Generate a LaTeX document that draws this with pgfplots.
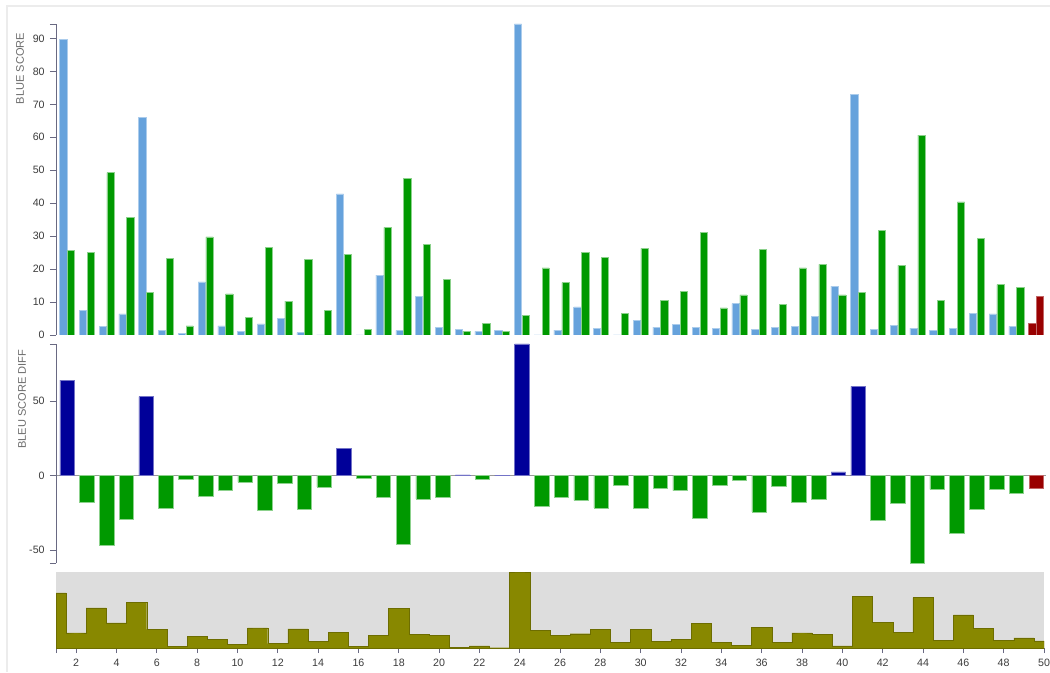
\documentclass[border=0pt]{standalone}
\usepackage{fontspec}
\setmainfont{Liberation Sans}
\usepackage{pgfplots}
\usepackage{pgfplotstable}
\pgfplotsset{compat=1.18}
\definecolor{lblue}{RGB}{102,162,220}
\definecolor{bgreen}{RGB}{0,153,0}
\definecolor{dblue}{RGB}{0,0,153}
\definecolor{dred}{RGB}{153,0,0}
\definecolor{olivec}{RGB}{136,136,0}
\definecolor{bggray}{RGB}{221,221,221}
\definecolor{axisc}{RGB}{105,105,130}
\definecolor{tickc}{RGB}{60,60,60}
\definecolor{labc}{RGB}{110,110,110}
\definecolor{framec}{RGB}{236,236,236}

% category, blue score, green score
\pgfplotstableread{
x b g
1 89.8 25.6
2 7.4 25.1
3 2.5 49.3
4 6.4 35.6
5 66.0 12.9
6 1.5 23.3
7 0.5 2.8
8 16.1 29.8
9 2.8 12.5
10 1.0 5.3
11 3.4 26.7
12 5.1 10.3
13 0.7 23.0
14 0.0 7.5
15 42.8 24.5
16 0.0 1.7
17 18.2 32.7
18 1.4 47.5
19 11.8 27.4
20 2.4 16.9
21 1.7 1.1
22 1.1 3.5
23 1.4 1.1
24 94.4 5.9
25 0.0 20.4
26 1.5 15.9
27 8.5 25.1
28 1.9 23.5
29 0.0 6.6
30 4.5 26.3
31 2.4 10.5
32 3.2 13.2
33 2.4 31.2
34 1.9 8.2
35 9.5 12.2
36 1.6 25.9
37 2.4 9.3
38 2.7 20.4
39 5.6 21.4
40 14.8 12.2
41 73.0 12.9
42 1.6 31.7
43 2.9 21.1
44 2.1 60.7
45 1.3 10.5
46 1.9 40.4
47 6.6 29.3
48 6.4 15.3
49 2.6 14.5
}\scores
\pgfplotstableread{
x b g
50 3.7 11.9
}\lastscore
% positive differences
\pgfplotstableread{
x d
1 64.2
5 53.1
15 18.3
21 0.6
23 0.3
24 88.5
40 2.6
41 60.1
}\diffpos
% negative differences
\pgfplotstableread{
x d
2 -17.7
3 -46.8
4 -29.2
6 -21.8
7 -2.3
8 -13.7
9 -9.7
10 -4.3
11 -23.3
12 -5.2
13 -22.3
14 -7.5
16 -1.7
17 -14.5
18 -46.1
19 -15.6
20 -14.5
22 -2.4
25 -20.4
26 -14.4
27 -16.6
28 -21.6
29 -6.6
30 -21.8
31 -8.1
32 -10.0
33 -28.8
34 -6.3
35 -2.7
36 -24.3
37 -6.9
38 -17.7
39 -15.8
42 -30.1
43 -18.2
44 -58.6
45 -9.2
46 -38.5
47 -22.7
48 -8.9
49 -11.9
}\diffneg
\pgfplotstableread{
x d
50 -8.2
}\difflast
% absolute differences
\pgfplotstableread{
x a
1 64.2
2 17.7
3 46.8
4 29.2
5 53.1
6 21.8
7 2.3
8 13.7
9 9.7
10 4.3
11 23.3
12 5.2
13 22.3
14 7.5
15 18.3
16 1.7
17 14.5
18 46.1
19 15.6
20 14.5
21 0.6
22 2.4
23 0.3
24 88.5
25 20.4
26 14.4
27 16.6
28 21.6
29 6.6
30 21.8
31 8.1
32 10.0
33 28.8
34 6.3
35 2.7
36 24.3
37 6.9
38 17.7
39 15.8
40 2.6
41 60.1
42 30.1
43 18.2
44 58.6
45 9.2
46 38.5
47 22.7
48 8.9
49 11.9
50 8.2
}\diffabs

\pgfplotsset{
  base/.style={
    scale only axis,
    anchor=south west,
    /pgf/number format/assume math mode=true,
    tick label style={font=\fontsize{8}{9.6}\selectfont, color=tickc},
    tick style={color=axisc, line width=0.5pt},
    major tick length=4.5pt,
    tick align=outside,
    axis line style={color=axisc, line width=0.6pt},
    yticklabel style={xshift=-0.5pt},
  },
}

\begin{document}
\begin{tikzpicture}[x=0.75pt,y=0.75pt]
\useasboundingbox (0,0) rectangle (1050,672);
\fill[white] (0,0) rectangle (1050,672);
\draw[framec, line width=1pt] (7,0) -- (7,666) -- (1050,666);

% top panel
\begin{axis}[base,
  at={(42pt,252.75pt)},
  width=742.5pt, height=233.25pt,
  xmin=0.44, xmax=50.5, ymin=0, ymax=94.4,
  axis x line=none, axis y line*=left,
  ytick={0,10,...,90},
  extra y ticks={94.4}, extra y tick labels={},
  ybar, bar width=5.4pt,
]
\addplot[fill=lblue, draw=lblue!55!white, line width=0.4pt, bar shift=-2.93pt] table[x=x,y=b] {\scores};
\addplot[fill=bgreen, draw=bgreen!45!white, line width=0.4pt, bar shift=2.93pt] table[x=x,y=g] {\scores};
\addplot[fill=dred, draw=dred!60!white, line width=0.4pt, bar shift=-2.93pt] table[x=x,y=b] {\lastscore};
\addplot[fill=dred, draw=dred!60!white, line width=0.4pt, bar shift=2.93pt] table[x=x,y=g] {\lastscore};
\end{axis}

% middle panel
\begin{axis}[base,
  at={(42pt,81.75pt)},
  width=742.5pt, height=164.25pt,
  xmin=0.44, xmax=50.5, ymin=-58.6, ymax=88.5,
  axis x line*=middle, xtick=\empty,
  x axis line style={color=gray!80, line width=0.6pt},
  axis y line*=left,
  ytick={-50,0,50},
  extra y ticks={-58.6,88.5}, extra y tick labels={},
  ybar, bar width=10.9pt,
]
\addplot[fill=dblue, draw=dblue!55!white, line width=0.4pt, bar shift=0pt] table[x=x,y=d] {\diffpos};
\addplot[fill=bgreen, draw=bgreen!45!white, line width=0.4pt, bar shift=0pt] table[x=x,y=d] {\diffneg};
\addplot[fill=dred, draw=dred!60!white, line width=0.4pt, bar shift=0pt] table[x=x,y=d] {\difflast};
\end{axis}

% bottom context panel
\begin{axis}[base,
  at={(42pt,18pt)},
  width=741pt, height=57pt,
  xmin=1, xmax=50, ymin=0, ymax=88.5,
  axis background/.style={fill=bggray},
  axis y line=none, axis x line*=bottom,
  x axis line style={draw=none},
  xtick={2,4,...,50},
  extra x ticks={1}, extra x tick labels={},
  major tick length=3.8pt,
  xticklabel style={yshift=-1pt},
]
\addplot[const plot mark mid, fill=olivec, draw=olivec!80!black, line width=0.3pt] table[x=x,y=a] {\diffabs} \closedcycle;
\end{axis}

\node[rotate=90, anchor=east, font=\fontsize{8.3}{10}\selectfont, color=labc] at (20,644) {BLUE SCORE};
\node[rotate=90, anchor=east, font=\fontsize{8.3}{10}\selectfont, color=labc] at (22,327) {BLEU SCORE DIFF};
\end{tikzpicture}
\end{document}
